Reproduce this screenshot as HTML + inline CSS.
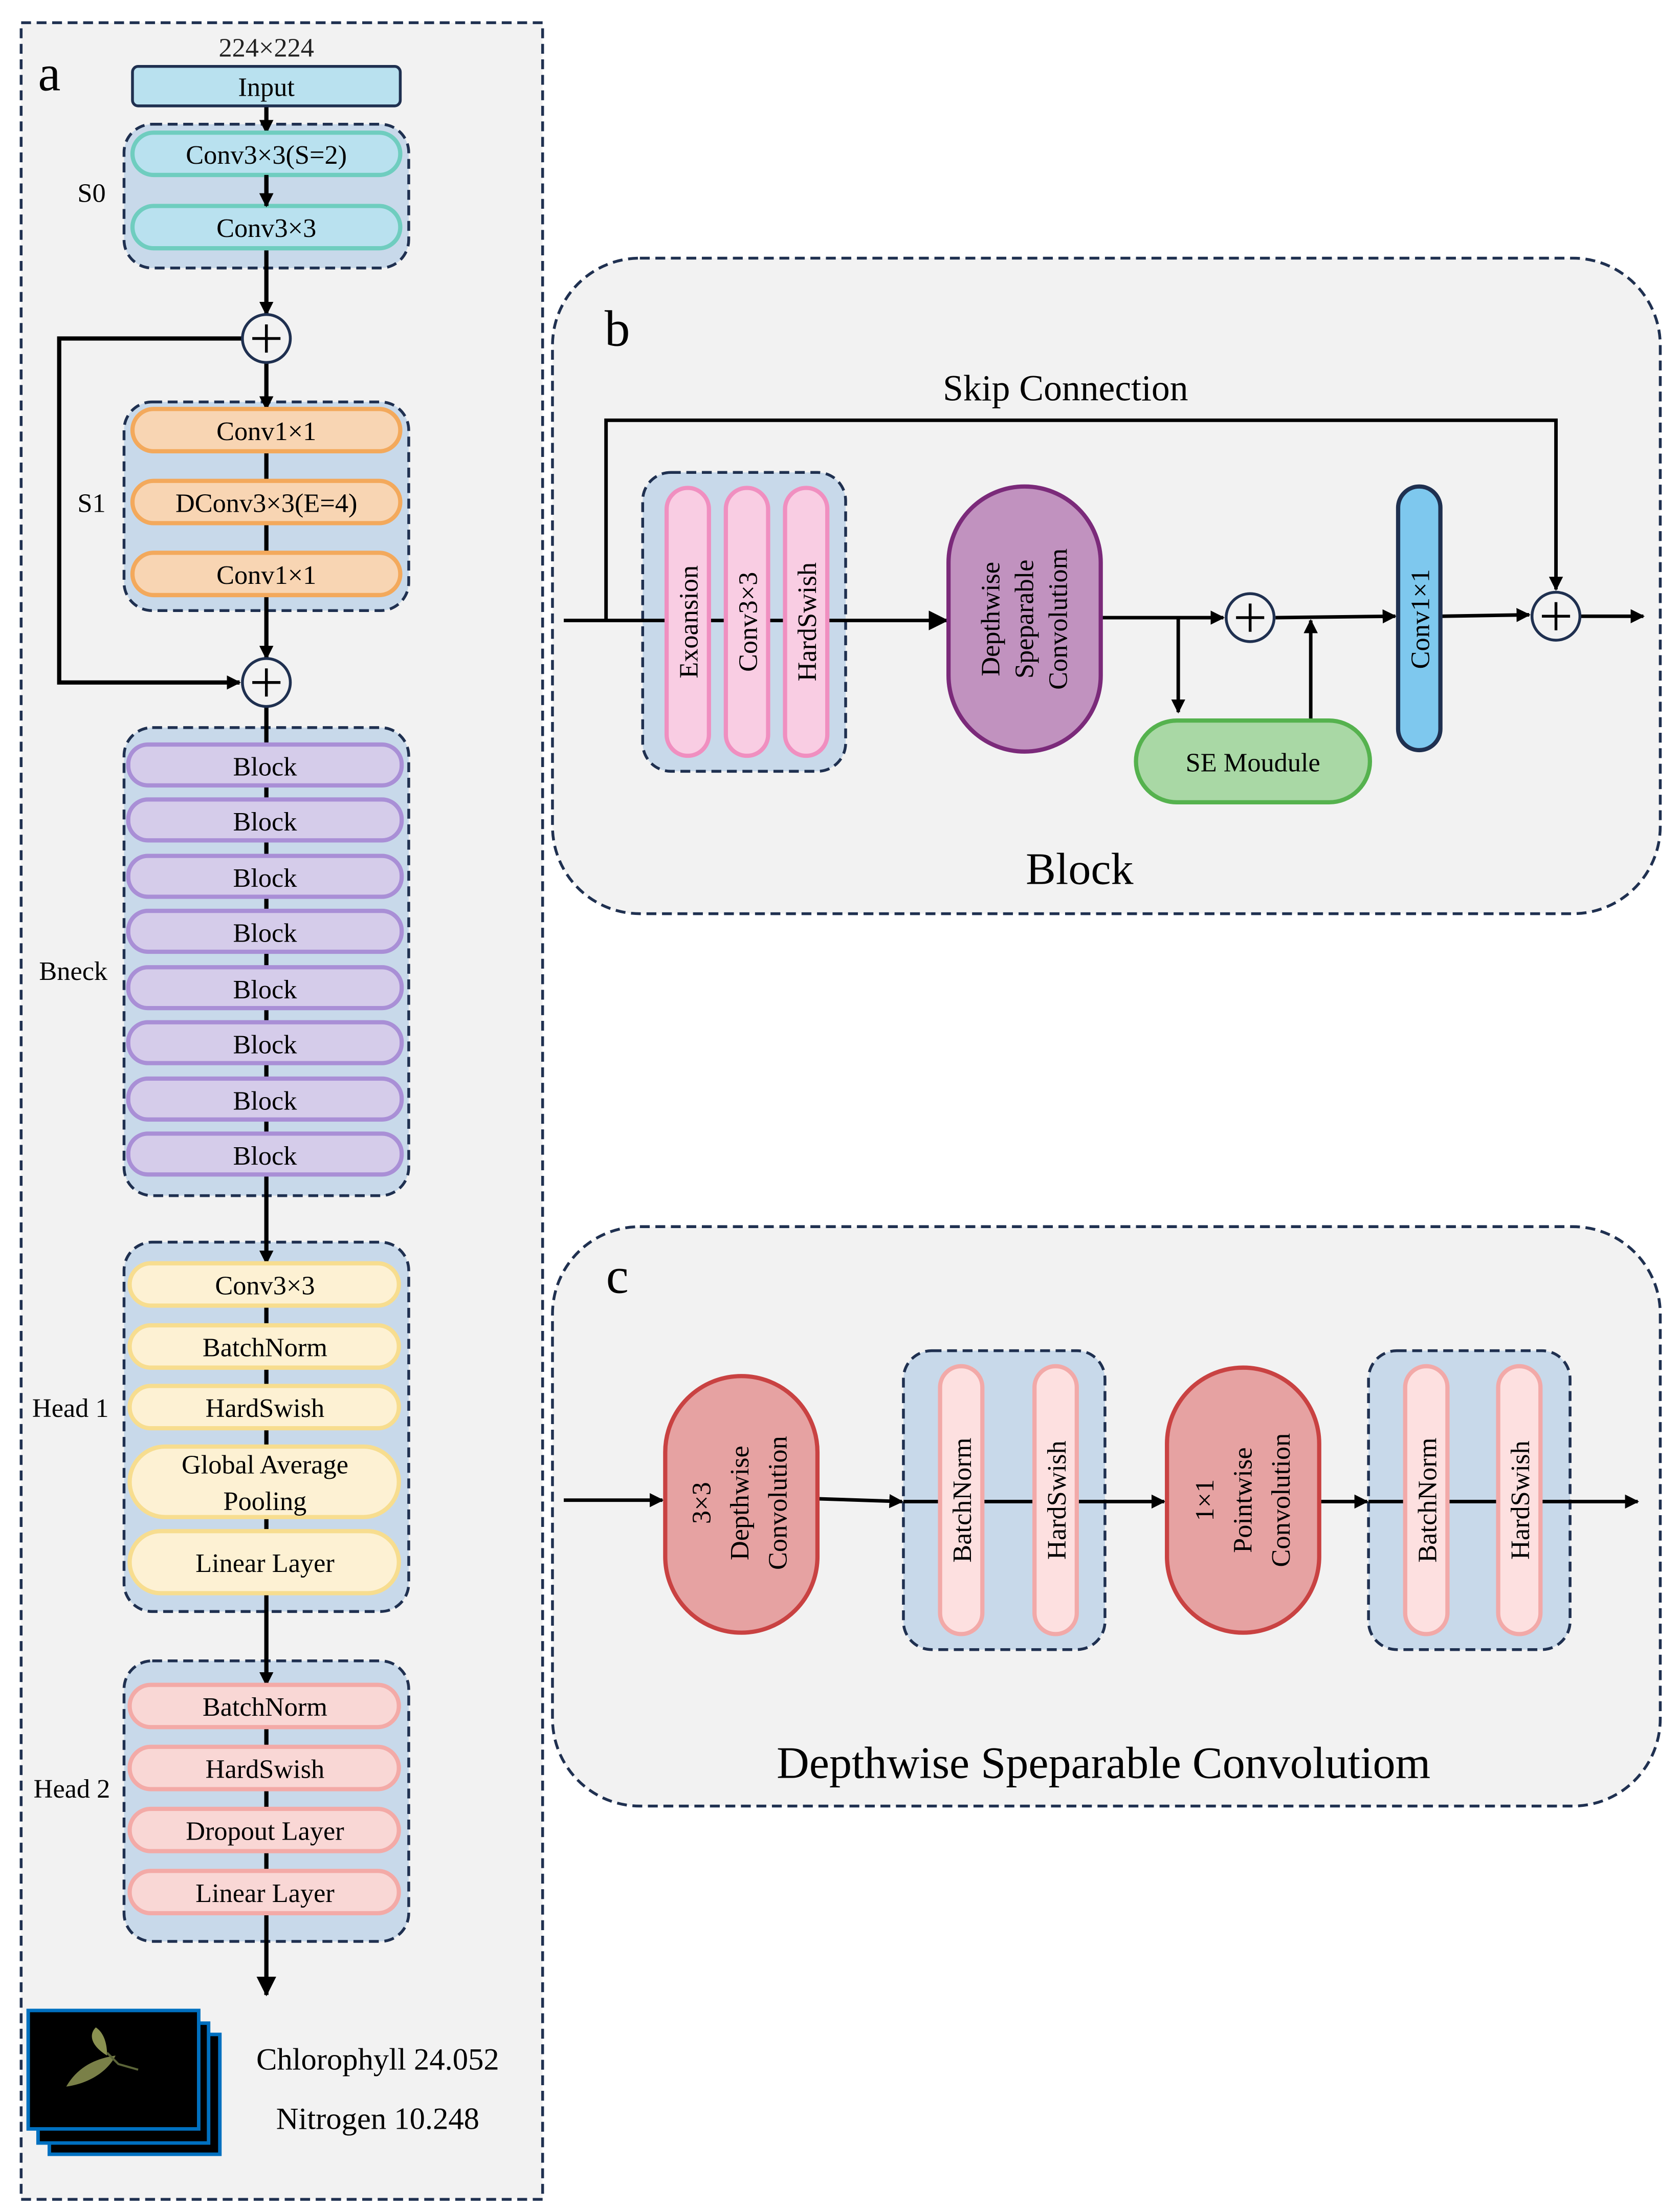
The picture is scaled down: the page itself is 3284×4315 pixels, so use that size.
<!DOCTYPE html>
<html><head><meta charset="utf-8"><style>html,body{margin:0;padding:0;background:#fff}svg{display:block}svg text{font-family:"Liberation Serif","DejaVu Serif",serif}</style></head>
<body>
<svg width="3284" height="4315" viewBox="0 0 1192 1566" xmlns="http://www.w3.org/2000/svg" style="font-family:'Liberation Serif',serif">
<defs>
<marker id="ar" markerWidth="10" markerHeight="10" refX="9" refY="5" orient="auto" markerUnits="userSpaceOnUse">
<path d="M0,0 L10,5 L0,10 z" fill="#000"/></marker>
<marker id="ar2" markerWidth="14" markerHeight="14" refX="13" refY="7" orient="auto" markerUnits="userSpaceOnUse">
<path d="M0,0 L14,7 L0,14 z" fill="#000"/></marker>
</defs>
<rect width="1192" height="1566" fill="#fff"/>
<!-- Panel a -->
<rect x="15" y="16" width="370" height="1544" fill="#f2f2f2" stroke="#1f3050" stroke-width="2" stroke-dasharray="7,4"/>
<text x="35" y="64" font-size="36" text-anchor="middle">a</text>
<text x="189" y="40" font-size="19" text-anchor="middle" fill="#222">224×224</text>
<!-- groups -->
<rect x="88" y="88" width="202" height="102" rx="20" fill="#c8d9ea" stroke="#1f3050" stroke-width="2" stroke-dasharray="7,4"/>
<rect x="88" y="285" width="202" height="148" rx="20" fill="#c8d9ea" stroke="#1f3050" stroke-width="2" stroke-dasharray="7,4"/>
<rect x="88" y="516" width="202" height="332" rx="20" fill="#c8d9ea" stroke="#1f3050" stroke-width="2" stroke-dasharray="7,4"/>
<rect x="88" y="881" width="202" height="262" rx="20" fill="#c8d9ea" stroke="#1f3050" stroke-width="2" stroke-dasharray="7,4"/>
<rect x="88" y="1178" width="202" height="199" rx="20" fill="#c8d9ea" stroke="#1f3050" stroke-width="2" stroke-dasharray="7,4"/>
<g stroke="#000" stroke-width="3" fill="none">
<line x1="189" y1="75" x2="189" y2="94" marker-end="url(#ar)"/>
<line x1="189" y1="124" x2="189" y2="146" marker-end="url(#ar)"/>
<line x1="189" y1="176" x2="189" y2="223" marker-end="url(#ar)"/>
<line x1="189" y1="257" x2="189" y2="290" marker-end="url(#ar)"/>
<line x1="189" y1="300" x2="189" y2="420"/>
<line x1="189" y1="420" x2="189" y2="467" marker-end="url(#ar)"/>
<polyline points="172,240 42,240 42,484 170,484" marker-end="url(#ar)"/>
<line x1="189" y1="501" x2="189" y2="830"/>
<line x1="189" y1="830" x2="189" y2="896" marker-end="url(#ar)"/>
<line x1="189" y1="910" x2="189" y2="1130"/>
<line x1="189" y1="1130" x2="189" y2="1195" marker-end="url(#ar)"/>
<line x1="189" y1="1205" x2="189" y2="1357"/>
<line x1="189" y1="1357" x2="189" y2="1415" marker-end="url(#ar2)"/>
</g>
<rect x="94" y="47" width="190" height="28" rx="4" fill="#b9e1ef" stroke="#1f3050" stroke-width="2"/>
<text x="189" y="68" font-size="19" text-anchor="middle">Input</text>
<rect x="94" y="94" width="190" height="30" rx="15" fill="#b9e1ef" stroke="#6fcdbf" stroke-width="3"/>
<text x="189" y="116" font-size="19" text-anchor="middle">Conv3×3(S=2)</text>
<rect x="94" y="146" width="190" height="30" rx="15" fill="#b9e1ef" stroke="#6fcdbf" stroke-width="3"/>
<text x="189" y="168" font-size="19" text-anchor="middle">Conv3×3</text>
<line x1="189" y1="124" x2="189" y2="146" stroke="#000" stroke-width="3" marker-end="url(#ar)"/>
<text x="65" y="143" font-size="19" text-anchor="middle">S0</text>
<g fill="#f8d5b3" stroke="#f3a95c" stroke-width="3">
<rect x="94" y="290" width="190" height="30" rx="15"/><rect x="94" y="341" width="190" height="30" rx="15"/><rect x="94" y="392" width="190" height="30" rx="15"/></g>
<g font-size="19" text-anchor="middle"><text x="189" y="312">Conv1×1</text><text x="189" y="363">DConv3×3(E=4)</text><text x="189" y="414">Conv1×1</text></g>
<text x="65" y="363" font-size="19" text-anchor="middle">S1</text>
<g fill="#f2f2f2" stroke="#1f3050" stroke-width="2"><circle cx="189" cy="240" r="17"/><circle cx="189" cy="484" r="17"/></g>
<g stroke="#000" stroke-width="2"><line x1="179" y1="240" x2="199" y2="240"/><line x1="189" y1="230" x2="189" y2="250"/><line x1="179" y1="484" x2="199" y2="484"/><line x1="189" y1="474" x2="189" y2="494"/></g>
<g fill="#d5ccea" stroke="#a98fd6" stroke-width="3">
<rect x="91" y="528" width="194" height="29" rx="14"/><rect x="91" y="567" width="194" height="29" rx="14"/><rect x="91" y="607" width="194" height="29" rx="14"/><rect x="91" y="646" width="194" height="29" rx="14"/><rect x="91" y="686" width="194" height="29" rx="14"/><rect x="91" y="725" width="194" height="29" rx="14"/><rect x="91" y="765" width="194" height="29" rx="14"/><rect x="91" y="804" width="194" height="29" rx="14"/></g>
<g font-size="19" text-anchor="middle"><text x="188" y="550">Block</text><text x="188" y="589">Block</text><text x="188" y="629">Block</text><text x="188" y="668">Block</text><text x="188" y="708">Block</text><text x="188" y="747">Block</text><text x="188" y="787">Block</text><text x="188" y="826">Block</text></g>
<text x="52" y="695" font-size="19" text-anchor="middle">Bneck</text>
<g fill="#fdf1d3" stroke="#f7dd8f" stroke-width="3">
<rect x="92" y="896" width="191" height="30" rx="15"/><rect x="92" y="940" width="191" height="30" rx="15"/><rect x="92" y="983" width="191" height="30" rx="15"/><rect x="92" y="1026" width="191" height="50" rx="25"/><rect x="92" y="1086" width="191" height="44" rx="22"/></g>
<g font-size="19" text-anchor="middle"><text x="188" y="918">Conv3×3</text><text x="188" y="962">BatchNorm</text><text x="188" y="1005">HardSwish</text><text x="188" y="1045">Global Average</text><text x="188" y="1071">Pooling</text><text x="188" y="1115">Linear Layer</text></g>
<text x="50" y="1005" font-size="19" text-anchor="middle">Head 1</text>
<g fill="#f9d7d5" stroke="#f3aaa7" stroke-width="3">
<rect x="92" y="1195" width="191" height="30" rx="15"/><rect x="92" y="1239" width="191" height="30" rx="15"/><rect x="92" y="1283" width="191" height="30" rx="15"/><rect x="92" y="1327" width="191" height="30" rx="15"/></g>
<g font-size="19" text-anchor="middle"><text x="188" y="1217">BatchNorm</text><text x="188" y="1261">HardSwish</text><text x="188" y="1305">Dropout Layer</text><text x="188" y="1349">Linear Layer</text></g>
<text x="51" y="1275" font-size="19" text-anchor="middle">Head 2</text>
<!-- images -->
<g stroke="#0070c0" stroke-width="2.5" fill="#000">
<rect x="35" y="1443" width="121" height="85"/>
<rect x="27" y="1435" width="121" height="85"/>
<rect x="20" y="1426" width="121" height="84"/>
</g>
<path d="M47,1480 C55,1466 68,1460 82,1458 C76,1470 62,1478 47,1480 Z" fill="#7a8048"/>
<path d="M68,1438 C62,1444 66,1452 76,1458 C76,1450 74,1442 68,1438 Z" fill="#8a9150"/>
<path d="M76,1456 L84,1464 L98,1468" stroke="#5b6438" stroke-width="1.5" fill="none"/>
<text x="268" y="1468" font-size="22" text-anchor="middle">Chlorophyll 24.052</text>
<text x="268" y="1510" font-size="22" text-anchor="middle">Nitrogen 10.248</text>

<!-- Panel b -->
<rect x="392" y="183" width="786" height="465" rx="62" fill="#f2f2f2" stroke="#1f3050" stroke-width="2" stroke-dasharray="7,4"/>
<text x="438" y="245" font-size="36" text-anchor="middle">b</text>
<text x="756" y="284" font-size="26" text-anchor="middle">Skip Connection</text>
<rect x="456" y="335" width="144" height="212" rx="20" fill="#c8d9ea" stroke="#1f3050" stroke-width="2" stroke-dasharray="7,4"/>
<g stroke="#000" stroke-width="2.5" fill="none">
<line x1="400" y1="440" x2="672" y2="440" marker-end="url(#ar2)"/>
<polyline points="430,440 430,298 1104,298 1104,418" marker-end="url(#ar)"/>
<line x1="781" y1="438" x2="868" y2="438" marker-end="url(#ar)"/>
<polyline points="836,438 836,505" marker-end="url(#ar)"/>
<line x1="930" y1="511" x2="930" y2="440" marker-end="url(#ar)"/>
<line x1="905" y1="438" x2="990" y2="437" marker-end="url(#ar)"/>
<line x1="1022" y1="437" x2="1085" y2="436" marker-end="url(#ar)"/>
<line x1="1121" y1="437" x2="1166" y2="437" marker-end="url(#ar)"/>
</g>
<g fill="#f9cde3" stroke="#f08fc0" stroke-width="3">
<rect x="473" y="346" width="30" height="190" rx="15"/><rect x="515" y="346" width="30" height="190" rx="15"/><rect x="557" y="346" width="30" height="190" rx="15"/></g>
<g font-size="19" text-anchor="middle">
<text transform="translate(495,441) rotate(-90)">Exoansion</text>
<text transform="translate(537,441) rotate(-90)">Conv3×3</text>
<text transform="translate(579,441) rotate(-90)">HardSwish</text></g>
<rect x="673" y="345" width="108" height="188" rx="54" fill="#c192bf" stroke="#7b2a7a" stroke-width="3"/>
<g font-size="19" text-anchor="middle">
<text transform="translate(709,439) rotate(-90)">Depthwise</text>
<text transform="translate(733,439) rotate(-90)">Speparable</text>
<text transform="translate(757,439) rotate(-90)">Convolutiom</text></g>
<rect x="806" y="511" width="166" height="58" rx="29" fill="#a9d8a5" stroke="#55b24e" stroke-width="3"/>
<text x="889" y="547" font-size="19" text-anchor="middle">SE Moudule</text>
<rect x="992" y="345" width="30" height="187" rx="15" fill="#7ec8ee" stroke="#1f3050" stroke-width="3"/>
<text transform="translate(1014,439) rotate(-90)" font-size="19" text-anchor="middle">Conv1×1</text>
<g fill="#f2f2f2" stroke="#1f3050" stroke-width="2"><circle cx="887" cy="438" r="17"/><circle cx="1104" cy="437" r="17"/></g>
<g stroke="#000" stroke-width="2"><line x1="877" y1="438" x2="897" y2="438"/><line x1="887" y1="428" x2="887" y2="448"/><line x1="1094" y1="437" x2="1114" y2="437"/><line x1="1104" y1="427" x2="1104" y2="447"/></g>
<text x="766" y="627" font-size="32" text-anchor="middle">Block</text>

<!-- Panel c -->
<rect x="392" y="870" width="786" height="411" rx="62" fill="#f2f2f2" stroke="#1f3050" stroke-width="2" stroke-dasharray="7,4"/>
<text x="438" y="917" font-size="36" text-anchor="middle">c</text>
<rect x="641" y="958" width="143" height="212" rx="20" fill="#c8d9ea" stroke="#1f3050" stroke-width="2" stroke-dasharray="7,4"/>
<rect x="971" y="958" width="143" height="212" rx="20" fill="#c8d9ea" stroke="#1f3050" stroke-width="2" stroke-dasharray="7,4"/>
<g stroke="#000" stroke-width="2.5" fill="none">
<line x1="400" y1="1064" x2="470" y2="1064" marker-end="url(#ar)"/>
<line x1="580" y1="1063" x2="640" y2="1065" marker-end="url(#ar)"/>
<line x1="641" y1="1065" x2="826" y2="1065" marker-end="url(#ar)"/>
<line x1="936" y1="1065" x2="970" y2="1065" marker-end="url(#ar)"/>
<line x1="971" y1="1065" x2="1162" y2="1065" marker-end="url(#ar)"/>
</g>
<rect x="472" y="976" width="108" height="182" rx="54" fill="#e6a2a2" stroke="#c94242" stroke-width="3"/>
<rect x="828" y="970" width="108" height="188" rx="54" fill="#e6a2a2" stroke="#c94242" stroke-width="3"/>
<g fill="#fde0e0" stroke="#f2a9a8" stroke-width="3">
<rect x="667" y="969" width="30" height="190" rx="15"/><rect x="734" y="969" width="30" height="190" rx="15"/>
<rect x="997" y="969" width="30" height="190" rx="15"/><rect x="1063" y="969" width="30" height="190" rx="15"/></g>
<g font-size="19" text-anchor="middle">
<text transform="translate(504,1066) rotate(-90)">3×3</text>
<text transform="translate(531,1066) rotate(-90)">Depthwise</text>
<text transform="translate(558,1066) rotate(-90)">Convolution</text>
<text transform="translate(861,1064) rotate(-90)">1×1</text>
<text transform="translate(888,1064) rotate(-90)">Pointwise</text>
<text transform="translate(915,1064) rotate(-90)">Convolution</text>
<text transform="translate(689,1064) rotate(-90)">BatchNorm</text>
<text transform="translate(756,1064) rotate(-90)">HardSwish</text>
<text transform="translate(1019,1064) rotate(-90)">BatchNorm</text>
<text transform="translate(1085,1064) rotate(-90)">HardSwish</text>
</g>
<text x="783" y="1261" font-size="32" text-anchor="middle">Depthwise Speparable Convolutiom</text>
</svg>
</body></html>
